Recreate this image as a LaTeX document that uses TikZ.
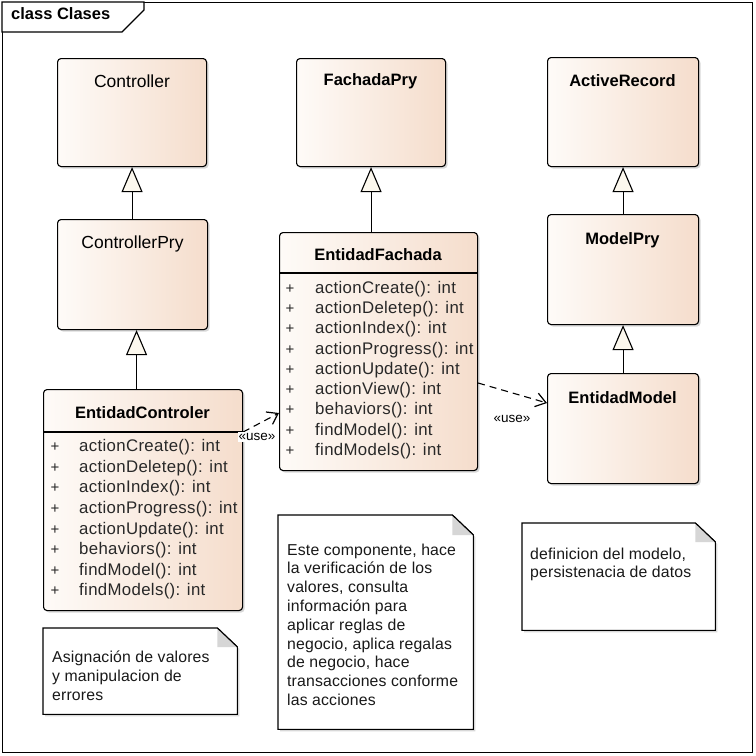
\documentclass[tikz,border=0pt]{standalone}
\usepackage{fontspec}
\setmainfont{Liberation Sans}
\usetikzlibrary{arrows.meta,shadows,calc}
\definecolor{peach}{RGB}{245,221,204}
\definecolor{cream}{RGB}{254,251,248}
\definecolor{tri}{RGB}{252,248,238}
\definecolor{foldgrey}{RGB}{214,214,214}
\definecolor{txt}{RGB}{40,40,40}
\begin{document}
\begin{tikzpicture}[x=1pt,y=-1pt,
  cls/.style={draw=black, line width=1.1pt, rounded corners=3.5pt,
    left color=cream, right color=peach,
    drop shadow={shadow xshift=2pt, shadow yshift=-2pt, opacity=0.3},
    anchor=north west, inner sep=0pt},
  cname/.style={font=\fontsize{16.5}{18}\selectfont\bfseries, inner sep=0pt},
  cnamereg/.style={font=\fontsize{17.5}{19}\selectfont, inner sep=0pt},
  meth/.style={font=\fontsize{16.8}{18}\selectfont\addfontfeatures{LetterSpace=2}, text=txt, anchor=mid west, inner sep=0pt},
  plus/.style={font=\fontsize{15}{16}\selectfont, text=txt, anchor=mid, inner sep=0pt},
  notetxt/.style={font=\fontsize{15.8}{18}\selectfont\addfontfeatures{LetterSpace=1}, text=black!90, anchor=mid west, inner sep=0pt},
  notebox/.style={fill=white, draw=black, line width=1.1pt,
    drop shadow={shadow xshift=2pt, shadow yshift=-2pt, opacity=0.3}},
  inh/.style={line width=1.1pt, -{Triangle[length=25pt,width=21pt,fill=tri,line width=1.1pt]}},
  usedep/.style={line width=1.1pt, dash pattern=on 7pt off 5pt,
    -{Straight Barb[length=10pt,width=14pt,line width=1.2pt]}},
  ulabel/.style={font=\fontsize{13.5}{15}\selectfont, fill=white, inner sep=1pt}
]
\useasboundingbox (0,0) rectangle (756,756);
\fill[white] (0,0) rectangle (756,756);

% frame
\node[draw=black, line width=1.1pt, anchor=north west, minimum width=750pt, minimum height=750pt, inner sep=0pt] (frame) at (2,2) {};
\draw[line width=1.1pt, fill=white] (frame.north west) -- (144,2) -- (144,10) -- (122,32) -- (2,32) -- cycle;
\node[font=\fontsize{16.5}{18}\selectfont\bfseries, anchor=mid west, inner sep=0pt] (title) at (11,17) {class Clases};

% classes
\node[cls, minimum width=149pt, minimum height=108pt] (ctrl) at (57,58) {};
\node[cnamereg] (ctrlname) at (132,81) {Controller};
\node[cls, minimum width=150pt, minimum height=110pt] (ctrlpry) at (57,219) {};
\node[cnamereg] (ctrlpryname) at (132.5,244) {ControllerPry};
\node[cls, minimum width=199pt, minimum height=221pt] (entctrl) at (43,389) {};
\node[cname] (entctrlname) at (142.5,413) {EntidadControler};
\draw[line width=1.1pt] ($(entctrl.north west)+(0,43)$) -- ($(entctrl.north east)+(0,43)$);

\node[cls, minimum width=149pt, minimum height=108pt] (fachpry) at (296,58) {};
\node[cname] (fachpryname) at (370.5,81) {FachadaPry};
\node[cls, minimum width=198pt, minimum height=238pt] (entfach) at (279,232) {};
\node[cname] (entfachname) at (378,255) {EntidadFachada};
\draw[line width=1.1pt] ($(entfach.north west)+(0,41)$) -- ($(entfach.north east)+(0,41)$);

\node[cls, minimum width=151pt, minimum height=109pt] (active) at (547,57) {};
\node[cname] (activename) at (622.5,81) {ActiveRecord};
\node[cls, minimum width=151pt, minimum height=110pt] (modelpry) at (547,214) {};
\node[cname] (modelpryname) at (622.5,240) {ModelPry};
\node[cls, minimum width=151pt, minimum height=110pt] (entmodel) at (547,373) {};
\node[cname] (entmodelname) at (622.5,398) {EntidadModel};

% methods
\foreach \t [count=\i] in {actionCreate,actionDeletep,actionIndex,actionProgress,actionUpdate,behaviors,findModel,findModels}{
  \node[plus] (ecp\i) at (55,{449+20.6*(\i-1)}) {+};
  \node[meth] (ecm\i) at (79,{449+20.6*(\i-1)}) {\t(): int};
}
\foreach \t [count=\i] in {actionCreate,actionDeletep,actionIndex,actionProgress,actionUpdate,actionView,behaviors,findModel,findModels}{
  \node[plus] (efp\i) at (290,{290.5+20.3*(\i-1)}) {+};
  \node[meth] (efm\i) at (315,{290.5+20.3*(\i-1)}) {\t(): int};
}

% generalizations
\draw[inh] (ctrlpry.north -| ctrl.south) -- (ctrl.south);
\coordinate (g2) at ($(entctrl.north)+(-6.5,0)$);
\draw[inh] (g2) -- (g2 |- ctrlpry.south);
\draw[inh] (entfach.north -| fachpry.south) -- (fachpry.south);
\draw[inh] (modelpry.north) -- (active.south);
\draw[inh] (entmodel.north) -- (modelpry.south);

% usage dependencies
\draw[usedep] ($(entctrl.north east)+(0,43)$) -- ($(entfach.north west)+(0,181)$);
\node[ulabel] (u1) at (257,437) {«use»};
\draw[usedep] ($(entfach.north east)+(0,151)$) -- ($(entmodel.north west)+(0,30)$);
\node[ulabel] (u2) at (512,419) {«use»};

% notes
\node[anchor=north west, minimum width=194pt, minimum height=86pt, inner sep=0pt] (note1) at (43,628) {};
\draw[notebox] (note1.north west) -- ($(note1.north east)+(-20,0)$) -- ($(note1.north east)+(0,19)$) -- (note1.south east) -- (note1.south west) -- cycle;
\fill[foldgrey] ($(note1.north east)+(-20,0)$) -- ($(note1.north east)+(-20,19)$) -- ($(note1.north east)+(0,19)$) -- cycle;
\draw[line width=1.1pt] ($(note1.north east)+(-20,0)$) -- ($(note1.north east)+(0,19)$);
\node[notetxt] (n1a) at (52,660) {Asignación de valores};
\node[notetxt] (n1b) at (52,679) {y manipulacion de};
\node[notetxt] (n1c) at (52,698) {errores};

\node[anchor=north west, minimum width=195pt, minimum height=214pt, inner sep=0pt] (note2) at (278,515) {};
\draw[notebox] (note2.north west) -- ($(note2.north east)+(-21,0)$) -- ($(note2.north east)+(0,20)$) -- (note2.south east) -- (note2.south west) -- cycle;
\fill[foldgrey] ($(note2.north east)+(-21,0)$) -- ($(note2.north east)+(-21,20)$) -- ($(note2.north east)+(0,20)$) -- cycle;
\draw[line width=1.1pt] ($(note2.north east)+(-21,0)$) -- ($(note2.north east)+(0,20)$);
\foreach \t [count=\i] in {{Este componente, hace},la verificación de los,{valores, consulta},información para,aplicar reglas de,{negocio, aplica regalas},{de negocio, hace},transacciones conforme,las acciones}{
  \node[notetxt] (n2l\i) at (287,{552.5+18.8*(\i-1)}) {\t};
}

\node[anchor=north west, minimum width=193pt, minimum height=107pt, inner sep=0pt] (note3) at (522,523) {};
\draw[notebox] (note3.north west) -- ($(note3.north east)+(-20,0)$) -- ($(note3.north east)+(0,19)$) -- (note3.south east) -- (note3.south west) -- cycle;
\fill[foldgrey] ($(note3.north east)+(-20,0)$) -- ($(note3.north east)+(-20,19)$) -- ($(note3.north east)+(0,19)$) -- cycle;
\draw[line width=1.1pt] ($(note3.north east)+(-20,0)$) -- ($(note3.north east)+(0,19)$);
\node[notetxt] (n3a) at (530,557) {definicion del modelo,};
\node[notetxt] (n3b) at (530,575) {persistenacia de datos};
\end{tikzpicture}
\end{document}
